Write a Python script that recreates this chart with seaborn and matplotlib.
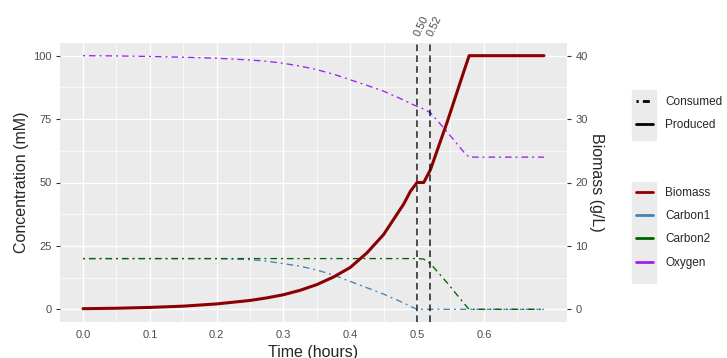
import pandas as pd
import matplotlib.pyplot as plt
import matplotlib.transforms as mtransforms
from matplotlib.lines import Line2D
from matplotlib.patches import Rectangle
import seaborn as sns

# 数据
time = [0.0, 0.05, 0.1, 0.15, 0.2, 0.25, 0.275, 0.3, 0.325, 0.35, 0.375, 0.4,
        0.425, 0.45, 0.46, 0.47, 0.48, 0.49, 0.5, 0.51, 0.52, 0.545, 0.57,
        0.578, 0.6, 0.65, 0.69]
biomass = [0.1, 0.17, 0.3, 0.5, 0.85, 1.4, 1.8, 2.3, 3.0, 3.9, 5.1, 6.6,
           8.9, 11.8, 13.4, 15.0, 16.6, 18.6, 20.0, 20.0, 22.0, 29.5, 37.5,
           40.0, 40.0, 40.0, 40.0]                                   # g/L
carbon1 = [20, 20, 20, 20, 20, 19.6, 19.0, 18.0, 17.0, 15.5, 13.5, 11.0,
           8.5, 6.0, 4.8, 3.7, 2.5, 1.2, 0, 0, 0, 0, 0,
           0, 0, 0, 0]                                               # mM
carbon2 = [20, 20, 20, 20, 20, 20, 20, 20, 20, 20, 20, 20,
           20, 20, 20, 20, 20, 20, 20, 19.8, 18.0, 10.5, 2.4,
           0, 0, 0, 0]                                               # mM
oxygen = [100, 99.9, 99.7, 99.4, 99.0, 98.3, 97.8, 97.0, 95.9, 94.5, 92.7, 90.5,
          88.3, 86.0, 84.8, 83.7, 82.5, 81.2, 80.0, 79.0, 77.5, 70.0, 62.0,
          60.0, 60.0, 60.0, 60.0]                                    # mM
switch_times = [0.50, 0.52]
switch_labels = ['0.50', '0.52']

species = ['Biomass', 'Carbon1', 'Carbon2', 'Oxygen']
colors = {'Biomass': '#8B0000', 'Carbon1': '#4682B4',
          'Carbon2': '#006400', 'Oxygen': '#A020F0'}
scale = 2.5  # mM per g/L on the secondary axis

df = pd.concat([
    pd.DataFrame({'time': time, 'value': carbon1, 'species': 'Carbon1', 'kind': 'Consumed'}),
    pd.DataFrame({'time': time, 'value': carbon2, 'species': 'Carbon2', 'kind': 'Consumed'}),
    pd.DataFrame({'time': time, 'value': oxygen, 'species': 'Oxygen', 'kind': 'Consumed'}),
])
df_bio = pd.DataFrame({'time': time, 'value': biomass, 'species': 'Biomass', 'kind': 'Produced'})

sns.set_theme(style='darkgrid')
plt.rcParams['font.family'] = ['Liberation Sans', 'DejaVu Sans']

fig = plt.figure(figsize=(7.27, 3.58), dpi=100)
ax = fig.add_axes([60 / 727, 1 - 322 / 358, 507 / 727, 279 / 358])
ax.set_facecolor('#EBEBEB')

dotdash = (1.5, 3, 5, 3)
sns.lineplot(data=df, x='time', y='value', hue='species', style='kind',
             palette=colors, dashes={'Consumed': dotdash}, linewidth=0.95,
             legend=False, ax=ax)

ax.set_xlim(-0.0345, 0.7245)
ax.set_ylim(-5, 105)
ax.set_xticks([0.0, 0.1, 0.2, 0.3, 0.4, 0.5, 0.6])
ax.set_xticks([0.05, 0.15, 0.25, 0.35, 0.45, 0.55, 0.65], minor=True)
ax.set_yticks([0, 25, 50, 75, 100])
ax.set_yticks([12.5, 37.5, 62.5, 87.5], minor=True)
ax.grid(which='major', color='white', linewidth=1.0)
ax.grid(which='minor', color='white', linewidth=0.5)
for s in ax.spines.values():
    s.set_visible(False)
ax.tick_params(axis='both', which='major', length=3, width=0.8, color='#333333',
               labelsize=8, labelcolor='#4D4D4D', pad=3)
ax.tick_params(axis='both', which='minor', length=0)
ax.set_xlabel('Time (hours)', fontsize=11.5, labelpad=3)
ax.set_ylabel('Concentration (mM)', fontsize=11.5, labelpad=3)

# 第二坐标轴：生物量
ax2 = ax.twinx()
sns.lineplot(data=df_bio, x='time', y='value', color=colors['Biomass'],
             linewidth=2.2, legend=False, ax=ax2)
ax2.set_ylim(-5 / scale, 105 / scale)
ax2.set_yticks([0, 10, 20, 30, 40])
ax2.grid(False)
for s in ax2.spines.values():
    s.set_visible(False)
ax2.tick_params(axis='y', length=3, width=0.8, color='#333333',
                labelsize=8, labelcolor='#4D4D4D', pad=3)
ax2.set_ylabel('Biomass (g/L)', fontsize=11.5, rotation=270, labelpad=12)

# 切换时间竖线
trans = mtransforms.blended_transform_factory(ax2.transData, ax2.transAxes)
for t, lab in zip(switch_times, switch_labels):
    ax2.axvline(t, color='black', linestyle=(0, (4, 2.5)), linewidth=1.2, alpha=0.8)
    ax2.text(t, 1.025, lab, transform=trans, rotation=65, rotation_mode='anchor',
             ha='left', va='center', fontsize=8, color='#4D4D4D', clip_on=False)

# 图例
fig.patches.append(Rectangle((632 / 727, 1 - 140 / 358), 24 / 727, 50 / 358,
                             transform=fig.transFigure, color='#EBEBEB', zorder=0))
fig.patches.append(Rectangle((632 / 727, 1 - 283 / 358), 24 / 727, 101 / 358,
                             transform=fig.transFigure, color='#EBEBEB', zorder=0))

lt_handles = [Line2D([], [], color='black', linewidth=2.0, linestyle=(0, (0.8, 1.5, 2.5, 1.5))),
              Line2D([], [], color='black', linewidth=2.0)]
fig.legend(lt_handles, ['Consumed', 'Produced'], loc='upper left',
           bbox_to_anchor=(636 / 727, 1 - 96 / 358), frameon=False, fontsize=8.5,
           borderpad=0, borderaxespad=0, handlelength=1.44, handletextpad=1.05,
           labelspacing=0.95)

col_handles = [Line2D([], [], color=colors[s], linewidth=2.0) for s in species]
fig.legend(col_handles, species, loc='upper left',
           bbox_to_anchor=(636 / 727, 1 - 187 / 358), frameon=False, fontsize=8.5,
           borderpad=0, borderaxespad=0, handlelength=1.44, handletextpad=1.05,
           labelspacing=0.95)

plt.savefig('out.png', dpi=100)
